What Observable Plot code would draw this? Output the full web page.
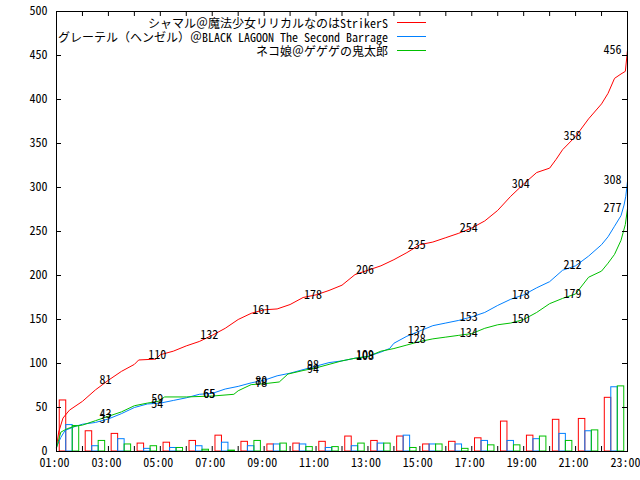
<!DOCTYPE html>
<html><head><meta charset="utf-8">
<script src="https://cdn.jsdelivr.net/npm/d3@7"></script>
<script src="https://cdn.jsdelivr.net/npm/@observablehq/plot@0.6"></script>
<style>
html,body{margin:0;padding:0;background:#fff;}
#chart svg{display:block;}
</style></head><body><div id="chart"></div>
<script>
const FONT = '"Noto Sans Mono CJK JP", "Noto Sans CJK JP", "DejaVu Sans Mono", monospace';

// ---- data ----
const seriesNames = [
  "シャマル＠魔法少女リリカルなのはStrikerS",
  "グレーテル（ヘンゼル）＠BLACK LAGOON The Second Barrage",
  "ネコ娘＠ゲゲゲの鬼太郎"
];
const seriesColors = ["#ff0000", "#0080ff", "#00c000"];

// hourly vote counts (bars), one group per hour starting at 01:00 .. 22:00
const barHours = [1,2,3,4,5,6,7,8,9,10,11,12,13,14,15,16,17,18,19,20,21,22];
const redBars   = [58,23,20,9,10,12,18,11,8,9,11,17,12,17,8,11,15,34,18,36,37,61];
const blueBars  = [30,6,14,3,4,6,10,6,8,8,4,6,9,18,8,8,12,12,14,20,23,73];
const greenBars = [29,12,8,6,4,2,1,12,9,5,5,9,9,4,8,3,7,7,17,12,24,74];

// cumulative lines
const redTimes  = ["01:00","01:05","01:15","01:30","02:00","02:30","03:00","03:30","04:00","04:10","04:50","05:00","05:30","06:00","06:30","07:00","07:30","08:00","08:30","09:00","09:30","10:00","10:30","11:00","11:30","12:00","12:30","13:00","13:30","14:00","14:30","15:00","15:30","16:00","16:30","17:00","17:30","18:00","18:30","19:00","19:30","20:00","20:15","20:30","21:00","21:30","22:00","22:15","22:30","22:45","22:55","23:00"];
const redValues = [5,22,38,47,57,70,81,91,99,104,105,110,114,120,125,132,140,150,157,161,162,167,175,178,183,189,201,206,211,218,226,235,238,243,248,254,262,274,290,304,317,322,332,343,358,378,395,407,424,429,432,456];

const blueTimes  = ["01:00","01:10","01:20","01:40","02:00","02:30","03:00","03:30","04:00","04:30","05:00","05:30","06:00","06:30","07:00","07:30","08:00","08:30","09:00","09:30","10:00","10:30","11:00","11:30","12:00","12:30","13:00","13:30","13:50","14:00","14:30","15:00","15:30","16:00","16:30","17:00","17:30","18:00","18:30","19:00","19:30","20:00","20:30","21:00","21:30","22:00","22:15","22:30","22:45","22:52","22:56","23:00"];
const blueValues = [5,16,24,28,31,33,37,43,50,54,55,58,61,65,66,71,74,78,81,86,89,93,97,101,103,106,108,113,117,123,131,137,143,146,149,153,158,166,173,178,186,193,206,211,222,235,244,256,268,280,290,307];

const greenTimes  = ["01:00","01:10","01:25","01:45","02:00","02:30","03:00","03:30","04:00","04:30","04:55","05:10","06:00","07:00","07:50","08:00","08:30","09:00","09:35","09:55","10:30","11:00","11:30","12:00","12:30","13:00","13:30","14:00","14:30","15:00","15:30","16:00","16:30","17:00","17:30","18:00","18:30","19:00","19:30","20:00","20:30","21:00","21:30","22:00","22:15","22:30","22:45","22:55","23:00"];
const greenValues = [4,22,26,29,30,35,40,45,52,55,57,62,62,63,65,69,76,77,79,88,92,95,99,103,106,108,114,117,121,125,128,130,132,134,140,144,146,150,158,168,174,179,198,205,214,224,240,258,276];

// value labels every two hours
const labelTimes  = ["03:00","05:00","07:00","09:00","11:00","13:00","15:00","17:00","19:00","21:00","23:00"];
const redLabels   = [81,110,132,161,178,206,235,254,304,358,456];
const blueLabels  = [37,54,65,80,98,109,137,153,178,212,308];
const greenLabels = [43,59,65,78,94,108,128,134,150,179,277];

const xTickLabels = ["01:00","03:00","05:00","07:00","09:00","11:00","13:00","15:00","17:00","19:00","21:00","23:00"];
const xMinorTicks = [1,2,3,4,5,6,7,8,9,10,11,12,13,14,15,16,17,18,19,20,21,22,23];
const yTicks = [0,50,100,150,200,250,300,350,400,450,500];

// ---- build tables ----
const hrs = s => { const [h, m] = s.split(":").map(Number); return h + m / 60; };
const barSets = [redBars, blueBars, greenBars];
const lineSets = [[redTimes, redValues], [blueTimes, blueValues], [greenTimes, greenValues]];
const labelSets = [redLabels, blueLabels, greenLabels];

const barRows = [];
barSets.forEach((vals, s) => vals.forEach((v, i) => barRows.push({
  series: seriesNames[s], x1: barHours[i] + 0.125 + 0.25 * s, x2: barHours[i] + 0.375 + 0.25 * s, value: v
})));
const lineRows = [];
lineSets.forEach(([ts, vs], s) => ts.forEach((t, i) => lineRows.push({series: seriesNames[s], t: hrs(t), v: vs[i]})));
const labelRows = [];
labelSets.forEach((vals, s) => vals.forEach((v, i) => labelRows.push({t: hrs(labelTimes[i]), v, last: i === labelTimes.length - 1})));

const W = 640, H = 480, ML = 56, MR = 13, MT = 11, MB = 29;
const innerW = W - ML - MR, innerH = H - MT - MB, tick = 5;

const chart = Plot.plot({
  width: W, height: H,
  marginLeft: ML, marginRight: MR, marginTop: MT, marginBottom: MB,
  style: {fontFamily: FONT, fontSize: "12px", background: "white", color: "black", overflow: "visible"},
  x: {domain: [1, 23]},
  y: {domain: [0, 500]},
  color: {domain: seriesNames, range: seriesColors},
  marks: [
    Plot.rectY(barRows, {x1: "x1", x2: "x2", y1: 0, y2: "value", stroke: "series", fill: "none", strokeWidth: 1}),
    Plot.line(lineRows, {x: "t", y: "v", z: "series", stroke: "series", strokeWidth: 1}),
    Plot.text(labelRows.filter(d => !d.last), {x: "t", y: "v", text: d => String(d.v), fill: "black", fontSize: 12, dx: -3}),
    Plot.text(labelRows.filter(d => d.last), {x: "t", y: "v", text: d => String(d.v), fill: "black", fontSize: 12, textAnchor: "end", dx: -6}),
    Plot.tickX(xMinorTicks, {x: d => d, stroke: "black", insetTop: innerH - tick}),
    Plot.tickX(xMinorTicks, {x: d => d, stroke: "black", insetBottom: innerH - tick}),
    Plot.tickY(yTicks, {y: d => d, stroke: "black", insetRight: innerW - tick}),
    Plot.tickY(yTicks, {y: d => d, stroke: "black", insetLeft: innerW - tick}),
    Plot.axisX(xTickLabels.map(hrs), {anchor: "bottom", tickSize: 0, tickPadding: 7, fontSize: 12, dx: -2,
      tickFormat: d => xTickLabels[xTickLabels.map(hrs).indexOf(d)], label: null}),
    Plot.axisY(yTicks, {anchor: "left", tickSize: 0, tickPadding: 9, fontSize: 12, label: null}),
    Plot.frame({stroke: "black", strokeWidth: 1})
  ]
});
document.getElementById("chart").appendChild(chart);

// legend (inside plot, top area)
const svg = d3.select(chart);
const lg = svg.append("g").attr("font-family", FONT).attr("font-size", 12);
seriesNames.forEach((name, i) => {
  const y = 22.5 + i * 14;
  lg.append("text").attr("x", 388).attr("y", y).attr("text-anchor", "end")
    .attr("dominant-baseline", "central").attr("fill", "black").text(name);
  lg.append("line").attr("x1", 397).attr("x2", 426).attr("y1", y).attr("y2", y)
    .attr("stroke", seriesColors[i]).attr("stroke-width", 1);
});
</script>
</body></html>
